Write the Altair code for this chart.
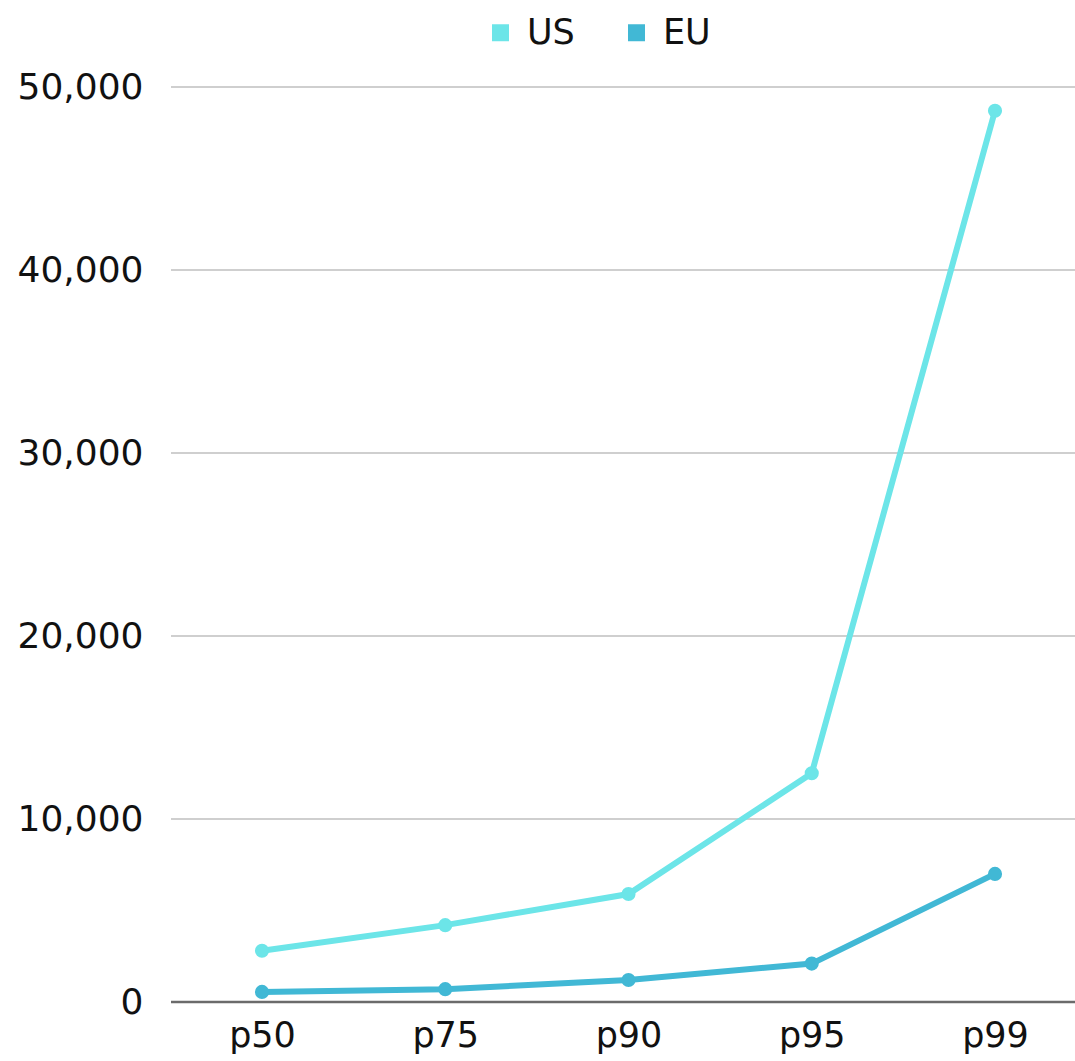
import altair as alt
import pandas as pd

# Percentile buckets and the two regional series
percentiles = ["p50", "p75", "p90", "p95", "p99"]
us_values = [2800, 4200, 5900, 12500, 48700]
eu_values = [550, 700, 1200, 2100, 7000]

series_names = ["US", "EU"]
series_colors = ["#6CE5E8", "#41B8D5"]

# Value-axis tick positions (gridlines)
y_ticks = [0, 10000, 20000, 30000, 40000, 50000]

rows = []
for name, vals in zip(series_names, [us_values, eu_values]):
    for p, v in zip(percentiles, vals):
        rows.append({"percentile": p, "value": v, "region": name})
df = pd.DataFrame(rows)
grid_df = pd.DataFrame({"value": y_ticks[1:]})
base_df = pd.DataFrame({"value": y_ticks[:1]})

FONT = "DejaVu Sans"
FS = 35
TEXT = "#111111"
W, H = 904, 915

y = alt.Y(
    "value:Q",
    scale=alt.Scale(domain=[0, 50000], nice=False),
    axis=alt.Axis(
        title=None,
        values=y_ticks,
        format=",d",
        labelFontSize=36,
        labelColor=TEXT,
        labelFont=FONT,
        labelPadding=28,
        ticks=False,
        domain=False,
        grid=False,
    ),
)
x = alt.X(
    "percentile:N",
    sort=percentiles,
    scale=alt.Scale(type="point", range=[91, 824], padding=0),
    axis=alt.Axis(
        title=None,
        labelAngle=0,
        labelFontSize=FS,
        labelColor=TEXT,
        labelFont=FONT,
        labelPadding=16,
        ticks=False,
        domain=False,
        grid=False,
    ),
)
color = alt.Color(
    "region:N",
    sort=series_names,
    scale=alt.Scale(domain=series_names, range=series_colors),
    legend=alt.Legend(
        title=None,
        orient="none",
        legendX=312,
        legendY=-72,
        direction="horizontal",
        symbolType="square",
        symbolSize=289,
        symbolStrokeWidth=0,
        labelFontSize=FS,
        labelFont=FONT,
        labelColor=TEXT,
        labelOffset=9,
        columnPadding=44,
        padding=0,
    ),
)

# Horizontal gridlines spanning the full plot width, plus the darker baseline
grid = alt.Chart(grid_df).mark_rule(color="#bfbfbf", strokeWidth=1.6).encode(y=y)
baseline = alt.Chart(base_df).mark_rule(color="#6b6b6b", strokeWidth=2.5).encode(y=y)

lines = alt.Chart(df).mark_line(strokeWidth=6).encode(x=x, y=y, color=color)
dots = alt.Chart(df).mark_circle(size=200, opacity=1).encode(x=x, y=y, color=color)

chart = (
    alt.layer(grid, baseline, lines, dots)
    .properties(
        width=W,
        height=H,
        background="white",
        autosize=alt.AutoSizeParams(type="none"),
        padding={"left": 171, "top": 87, "right": 0, "bottom": 59},
    )
    .configure_view(stroke=None, strokeWidth=0)
    .configure_axis(domain=False, grid=False)
)

chart.save("out.html", embed_options={"renderer": "svg", "actions": False})
